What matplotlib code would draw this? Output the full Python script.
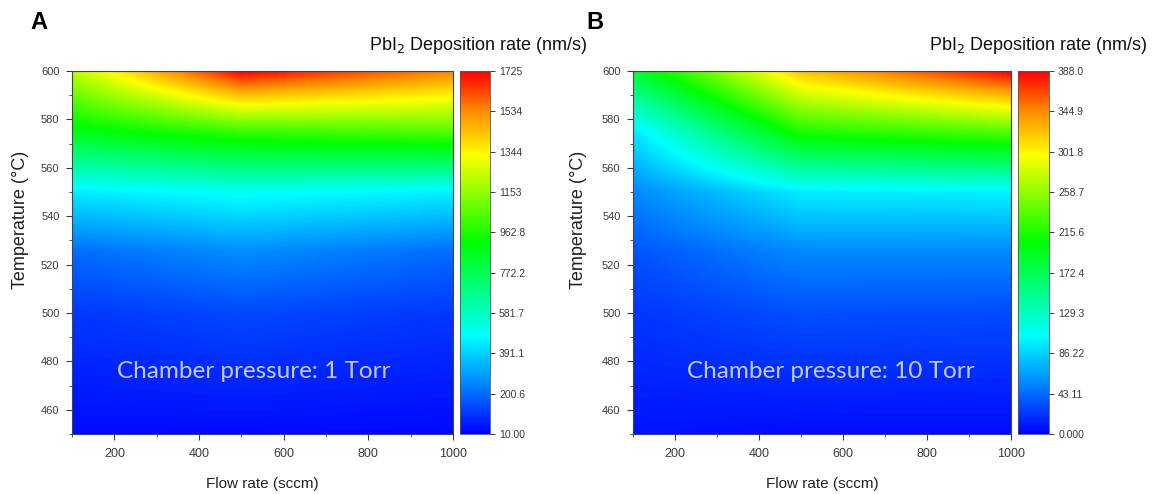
import numpy as np
import matplotlib
matplotlib.use("Agg")
import matplotlib.pyplot as plt
from matplotlib.colors import LinearSegmentedColormap

plt.rcParams['font.family'] = ['Liberation Sans', 'DejaVu Sans']

# Measurement grid
flow_rates = [100, 500, 1000]            # sccm
temperatures = [450, 500, 525, 550, 575, 600]  # degC

# PbI2 deposition rate (nm/s), rows follow temperatures, columns follow flow_rates
rate_1torr = [
    [30, 30, 25],
    [110, 140, 110],
    [200, 260, 200],
    [440, 490, 450],
    [880, 1000, 1050],
    [1220, 1725, 1540],
]
rate_10torr = [
    [8, 5, 5],
    [22, 32, 30],
    [33, 55, 55],
    [55, 98, 100],
    [95, 215, 235],
    [185, 322, 388],
]

cbar_ticklabels_1torr = ['10.00', '200.6', '391.1', '581.7', '772.2',
                         '962.8', '1153', '1344', '1534', '1725']
cbar_ticklabels_10torr = ['0.000', '43.11', '86.22', '129.3', '172.4',
                          '215.6', '258.7', '301.8', '344.9', '388.0']
cbar_range_1torr = (10.0, 1725.0)
cbar_range_10torr = (0.0, 388.0)

pressure_labels = ['Chamber pressure: 1 Torr', 'Chamber pressure: 10 Torr']
panel_letters = ['A', 'B']

rainbow = LinearSegmentedColormap.from_list(
    'origin_rainbow',
    [(0.00, (0.0, 0.0, 1.0)),
     (0.13, (0.0, 0.5, 1.0)),
     (0.27, (0.0, 1.0, 1.0)),
     (0.53, (0.0, 1.0, 0.0)),
     (0.77, (1.0, 1.0, 0.0)),
     (0.89, (1.0, 0.55, 0.0)),
     (1.00, (1.0, 0.0, 0.0))])


def bilinear_field(values, nx=450, ny=300):
    z = np.asarray(values, dtype=float)
    xf = np.linspace(flow_rates[0], flow_rates[-1], nx)
    yf = np.linspace(temperatures[0], temperatures[-1], ny)
    rows = np.array([np.interp(xf, flow_rates, r) for r in z])
    field = np.array([np.interp(yf, temperatures, rows[:, j]) for j in range(nx)]).T
    return field


fig = plt.figure(figsize=(11.54, 4.94), dpi=100)

panels = [
    dict(ax=[0.0624, 0.1215, 0.330, 0.7348], cax=[0.3986, 0.1215, 0.026, 0.7348],
         data=rate_1torr, rng=cbar_range_1torr, tl=cbar_ticklabels_1torr,
         ylab_x=0.018, title_x=0.5095, letter_x=0.026, text_xy=(530, 476)),
    dict(ax=[0.5485, 0.1215, 0.3276, 0.7348], cax=[0.8821, 0.1215, 0.027, 0.7348],
         data=rate_10torr, rng=cbar_range_10torr, tl=cbar_ticklabels_10torr,
         ylab_x=0.501, title_x=0.9948, letter_x=0.508, text_xy=(571, 476)),
]

tick_col = '#3a3a3a'
for i, p in enumerate(panels):
    ax = fig.add_axes(p['ax'])
    field = bilinear_field(p['data'])
    vmin, vmax = p['rng']
    im = ax.imshow(field, origin='lower', aspect='auto', cmap=rainbow,
                   vmin=vmin, vmax=vmax, interpolation='bilinear',
                   extent=[flow_rates[0], flow_rates[-1], temperatures[0], temperatures[-1]])
    ax.set_xlim(100, 1000)
    ax.set_ylim(450, 600)
    ax.set_xticks([200, 400, 600, 800, 1000])
    ax.set_xticks(np.arange(100, 1001, 100), minor=True)
    ax.set_yticks(np.arange(460, 601, 20))
    ax.set_yticks(np.arange(450, 601, 10), minor=True)
    ax.tick_params(which='major', direction='out', length=4, width=0.8,
                   labelsize=8, colors=tick_col, pad=5)
    ax.tick_params(axis='x', which='major', labelsize=9, pad=6)
    ax.tick_params(which='minor', direction='out', length=2.5, width=0.6, colors=tick_col)
    for s in ax.spines.values():
        s.set_color('#444444')
        s.set_linewidth(0.8)
    ax.set_xlabel('Flow rate (sccm)', fontsize=11, color='#222222', labelpad=12)
    fig.text(p['ylab_x'], 0.555, 'Temperature (°C)', rotation=90, fontsize=13,
             color='#222222', ha='center', va='center')
    ax.text(p['text_xy'][0], p['text_xy'][1], pressure_labels[i],
            fontsize=17.5, color='#c8caf6', ha='center', va='center',
            family=['Lato', 'DejaVu Sans'])

    cax = fig.add_axes(p['cax'])
    cb = fig.colorbar(im, cax=cax, ticks=np.linspace(vmin, vmax, 10))
    cb.ax.set_yticklabels(p['tl'])
    cb.ax.tick_params(direction='out', length=3.5, width=0.7, labelsize=7.5,
                      colors=tick_col, pad=3)
    cb.outline.set_edgecolor('#555555')
    cb.outline.set_linewidth(0.6)

    fig.text(p['title_x'], 0.908, r'PbI$_2$ Deposition rate (nm/s)', fontsize=13,
             color='#111111', ha='right', va='center')
    fig.text(p['letter_x'], 0.955, panel_letters[i], fontsize=17, fontweight='bold',
             color='black', ha='left', va='center')

fig.savefig('out.png', dpi=100)
